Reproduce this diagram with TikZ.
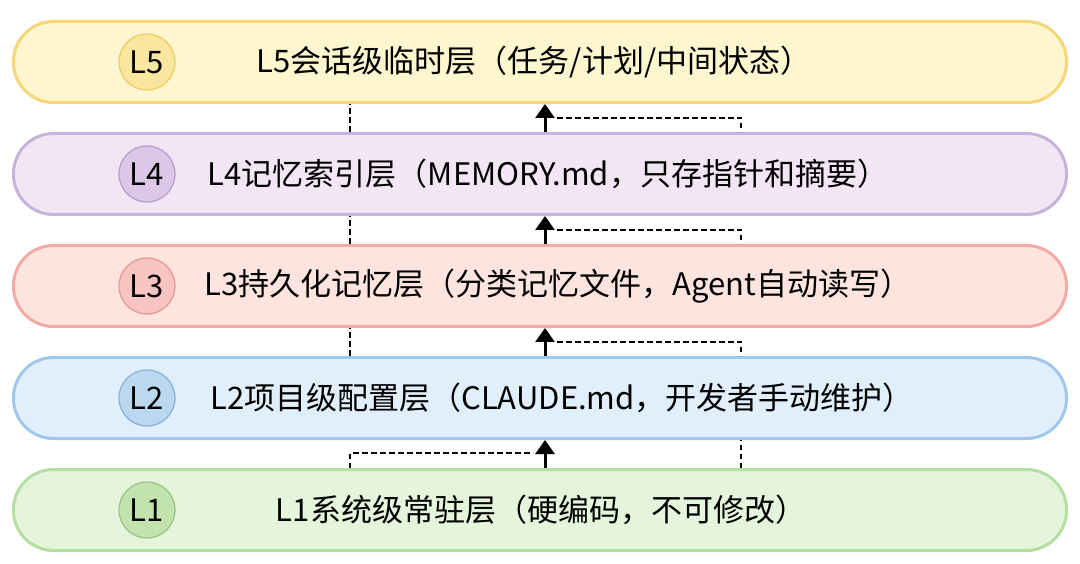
\documentclass[tikz,border=0pt]{standalone}
\usepackage{fontspec}
\setmainfont{Noto Sans CJK SC}
\usetikzlibrary{arrows.meta,calc}

\definecolor{fill5}{HTML}{FEF6CF}\definecolor{line5}{HTML}{F6D677}
\definecolor{dot5}{HTML}{FBE6A0}\definecolor{ring5}{HTML}{EDCB62}
\definecolor{fill4}{HTML}{F3E6F4}\definecolor{line4}{HTML}{C8B2DA}
\definecolor{dot4}{HTML}{DCC8E6}\definecolor{ring4}{HTML}{B39CCB}
\definecolor{fill3}{HTML}{FDE4DF}\definecolor{line3}{HTML}{F5A9A5}
\definecolor{dot3}{HTML}{F8C4C1}\definecolor{ring3}{HTML}{E79590}
\definecolor{fill2}{HTML}{E0EFFB}\definecolor{line2}{HTML}{A1C8EC}
\definecolor{dot2}{HTML}{BCD8F1}\definecolor{ring2}{HTML}{86AFD8}
\definecolor{fill1}{HTML}{E4F5DB}\definecolor{line1}{HTML}{B5DEA3}
\definecolor{dot1}{HTML}{C2E2AE}\definecolor{ring1}{HTML}{96C482}

\tikzset{
  layer/.style={draw, line width=3pt, rounded corners=40pt, minimum width=1053pt, minimum height=81pt, inner sep=0pt},
  badge/.style={circle, draw, line width=1.2pt, minimum size=56pt, inner sep=0pt, font=\fontsize{31}{31}\selectfont},
  title/.style={font=\fontsize{31}{36}\selectfont, inner sep=0pt},
  flow/.style={line width=3pt, -{Triangle[length=14pt,width=19pt]}},
  link/.style={line width=1.6pt, dash pattern=on 5.5pt off 3.5pt}
}

\begin{document}
\begin{tikzpicture}[x=1pt,y=-1pt]
    \useasboundingbox (0,0) rectangle (1080,564);

    \foreach \n/\y/\tx/\txt in {5/62/534/{L5会话级临时层（任务/计划/中间状态）},
                               4/174/548/{L4记忆索引层（MEMORY.md，只存指针和摘要）},
                               3/286/558/{L3持久化记忆层（分类记忆文件，Agent自动读写）},
                               2/398/562/{L2项目级配置层（CLAUDE.md，开发者手动维护）},
                               1/510/541/{L1系统级常驻层（硬编码，不可修改）}}{
        \node[layer, fill=fill\n, draw=line\n] (l\n) at (540,\y) {};
        \node[badge, fill=dot\n, draw=ring\n] (b\n) at (147,\y) {L\n};
        \node[title] (t\n) at (\tx,\y) {\txt};
    }

    \coordinate (dl) at (350,0);
    \coordinate (dr) at (741,0);
    \coordinate (ax) at (545,0);

    % lowest gap
    \draw[flow] (l1.north -| ax) -- (l2.south -| ax);
    \draw[link] (l1.north -| dl) |- ($(l2.south -| ax)+(-12,13)$);
    \draw[link] (l1.north -| dr) -- (l2.south -| dr);

    \foreach \j/\k in {2/3,3/4,4/5}{
        \draw[flow] (l\j.north -| ax) -- (l\k.south -| ax);
        \draw[link] (l\j.north -| dl) -- (l\k.south -| dl);
        \draw[link] ($(l\k.south -| ax)+(12,14)$) -| (l\j.north -| dr);
    }
\end{tikzpicture}
\end{document}
